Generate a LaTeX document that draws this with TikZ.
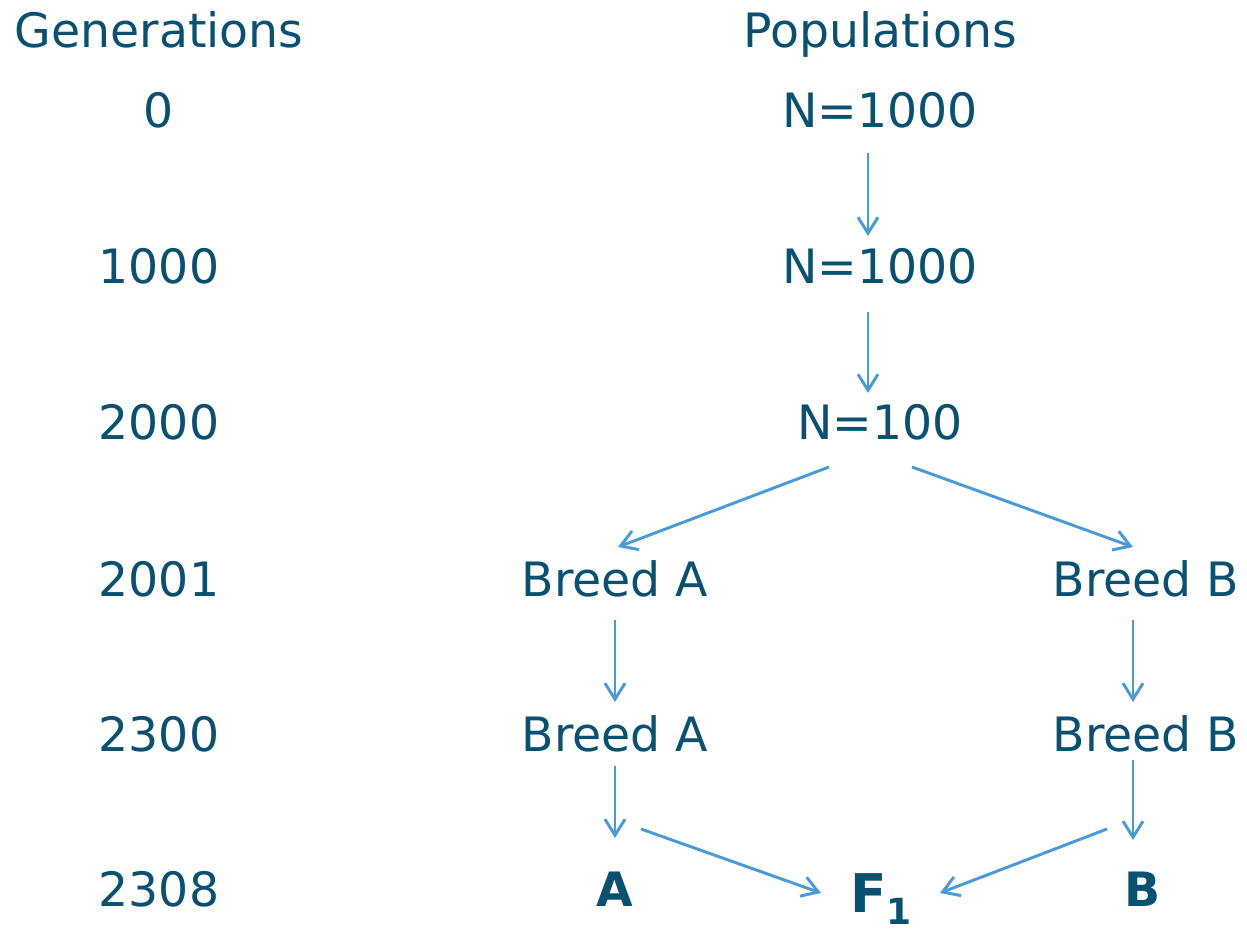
\documentclass[tikz,border=0pt]{standalone}
\usepackage{fontspec}
\setmainfont{DejaVu Sans}
\usetikzlibrary{arrows.meta}
\definecolor{txt}{HTML}{0A5070}
\definecolor{arr}{HTML}{4A9AD6}
\tikzset{
  lbl/.style={anchor=base, inner sep=0pt, text=txt, font=\fontsize{35.5}{40}\selectfont},
  blbl/.style={lbl, font=\fontsize{35.5}{40}\selectfont\bfseries},
  conn/.style={draw=arr, line width=2.2pt, -{Straight Barb[length=12pt,width=15pt,line width=2.2pt]}}
}
\begin{document}
\begin{tikzpicture}[x=0.75pt,y=-0.75pt]
\useasboundingbox (0,0) rectangle (1247,934);
% headers
\node[lbl] (gen) at (159,48) {Generations};
\node[lbl] (pop) at (880,48) {Populations};
% generations
\node[lbl] (g0) at (159,128) {0};
\node[lbl] (g1) at (159,284) {1000};
\node[lbl] (g2) at (159,440) {2000};
\node[lbl] (g3) at (159,596) {2001};
\node[lbl] (g4) at (159,751) {2300};
\node[lbl] (g5) at (159,906) {2308};
% populations
\node[lbl] (p0) at (880,128) {N=1000};
\node[lbl] (p1) at (880,284) {N=1000};
\node[lbl] (p2) at (880,440) {N=100};
\node[lbl] (a1) at (615,596) {Breed A};
\node[lbl] (b1) at (1146,596) {Breed B};
\node[lbl] (a2) at (615,751) {Breed A};
\node[lbl] (b2) at (1146,751) {Breed B};
\node[blbl] (a3) at (615,906) {A};
\node[blbl] (b3) at (1143,906) {B};
\node[lbl, font=\fontsize{40}{44}\selectfont\bfseries] (f1) at (881,912) {F\raisebox{-9.5pt}{\fontsize{27}{27}\selectfont 1}};
% connectors
\draw[conn] ([shift={(-12,25)}]p0.base) -- ([shift={(-12,-48)}]p1.base);
\draw[conn] ([shift={(-12,28)}]p1.base) -- ([shift={(-12,-47)}]p2.base);
\draw[conn] ([shift={(-51,27)}]p2.base) -- ([shift={(3,-49)}]a1.base);
\draw[conn] ([shift={(32,27)}]p2.base) -- ([shift={(-13,-49)}]b1.base);
\draw[conn] ([shift={(0,24)}]a1.base) -- ([shift={(0,-49)}]a2.base);
\draw[conn] ([shift={(-13,24)}]b1.base) -- ([shift={(-13,-49)}]b2.base);
\draw[conn] ([shift={(0,15)}]a2.base) -- ([shift={(0,-68)}]a3.base);
\draw[conn] ([shift={(-13,9)}]b2.base) -- ([shift={(-10,-66)}]b3.base);
\draw[conn] ([shift={(26,-77)}]a3.base) -- ([shift={(-60,-19)}]f1.base);
\draw[conn] ([shift={(-36,-77)}]b3.base) -- ([shift={(59,-19)}]f1.base);
\end{tikzpicture}
\end{document}
